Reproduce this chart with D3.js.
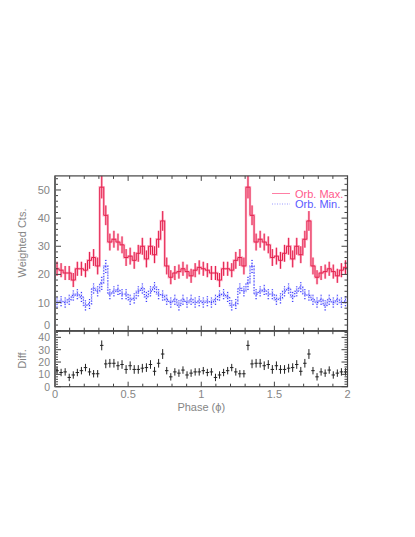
<!DOCTYPE html>
<html><head><meta charset="utf-8">
<script src="https://cdn.jsdelivr.net/npm/d3@7"></script>
<style>
html,body{margin:0;padding:0;background:#fff;}
text{font-family:"Liberation Sans","DejaVu Sans",sans-serif;}
</style></head>
<body>
<svg id="c" width="415" height="537"></svg>
<script>
// ---- data (one cycle, 36 phase bins; plotted twice: phase 0-2) ----
const nBins = 36;
const orbMax = [22,21.5,20.5,20.5,18,22,22,21.5,25,26,23,51,41,31.5,32.5,31.5,30.5,26,26.5,25,27.5,30,25.5,30,27,32.5,39,23,19,20.5,21,22,21,19.5,21.5,22.5];
const orbMaxErr = [2.5,2.5,2.5,2.5,2.5,2.5,2.5,2.5,3,3,3,4,3.5,3,3,3,3,3,3,3,3,3,3,3,3,3,3.5,3,2.5,2.5,2.5,2.5,2.5,2.5,2.5,2.5];
const orbMin = [10,10.5,10,11,12.5,13,12,9,9.5,15,14,17,23,13,14,14.5,13,13,11,11.5,14,15,12,14,15.5,13,12.5,11,10,11,9,11,10,11,10,10.5];
const orbMinErr = [1.8,1.8,1.8,1.8,1.8,1.8,1.8,1.8,1.8,1.8,1.8,2.5,2.5,1.8,1.8,1.8,1.8,1.8,1.8,1.8,1.8,1.8,1.8,1.8,1.8,1.8,1.8,1.8,1.8,1.8,1.8,1.8,1.8,1.8,1.8,1.8];
const diff = [13,11.5,12,7.5,9.5,11.5,13,15.5,12,10.5,10.5,33.5,18.5,19,19,17,18,14,17,14,14,15,15.5,18,12.5,19,26.5,13,8,12,11,13.5,9.5,11,12,12];
const diffErr = [3,3,3,3,3,3,3,3,3,3,3,4,3.5,3.5,3.5,3.5,3.5,3.5,3.5,3.5,3.5,3.5,3.5,3.5,3.5,3.5,4,3,3,3,3,3,3,3,3,3];
const xTicksMajor = [0,0.5,1,1.5,2];
const xTickLabels = ["0","0.5","1","1.5","2"];
const yTopTicks = [0,10,20,30,40,50];
const yBotTicks = [0,10,20,30,40];
const legendLabels = ["Orb. Max.","Orb. Min."];

// ---- build bins over two cycles ----
function cycles(vals, errs){
  const out=[];
  for(let c=0;c<2;c++) vals.forEach((v,i)=>{
    const k=c*nBins+i;
    out.push({x0:k/nBins, x1:(k+1)/nBins, xc:(k+0.5)/nBins, v:v, e:errs[i]});
  });
  return out;
}
const maxB = cycles(orbMax, orbMaxErr);
const minB = cycles(orbMin, orbMinErr);
const difB = cycles(diff, diffErr);

const svg = d3.select("#c");
const x = d3.scaleLinear().domain([0,2]).range([55,347.5]);
const yT = d3.scaleLinear().domain([0,55]).range([330.7,175.9]);
const yB = d3.scaleLinear().domain([0,45]).range([386.7,331.2]);

const axisCol = "#444", txtCol = "#858585";

function stepPts(bins, y){
  const pts=[];
  bins.forEach(b=>{pts.push([x(b.x0),y(b.v)]);pts.push([x(b.x1),y(b.v)]);});
  return pts;
}
const line = d3.line();

function drawHist(bins, y, color, w, ew, dash, opacity){
  const g = svg.append("g").attr("opacity", opacity);
  g.append("path").attr("d", line(stepPts(bins,y))).attr("fill","none")
    .attr("stroke",color).attr("stroke-width",w).attr("stroke-dasharray",dash||null);
  g.selectAll("line.err").data(bins).join("line")
    .attr("x1",d=>x(d.xc)).attr("x2",d=>x(d.xc))
    .attr("y1",d=>y(d.v-d.e)).attr("y2",d=>y(Math.min(d.v+d.e, y.domain()[1])))
    .attr("stroke",color).attr("stroke-width",ew).attr("stroke-dasharray",dash||null);
}

// Orb. Min. (blue dotted)
drawHist(minB, yT, "#b4b4ff", 1.8, 1.8, "1.2,1.2", 1);
drawHist(minB, yT, "#2a2aff", 1, 1, "1,2", 1);
// Orb. Max. (pink / crimson)
drawHist(maxB, yT, "#ff9cb8", 2.4, 2.4, null, 0.75);
drawHist(maxB, yT, "#e3204c", 1, 1, null, 1);

// Diff crosses
const gd = svg.append("g");
gd.selectAll("line.h").data(difB).join("line")
  .attr("x1",d=>x(d.x0)+0.3).attr("x2",d=>x(d.x1)-0.3)
  .attr("y1",d=>yB(d.v)).attr("y2",d=>yB(d.v))
  .attr("stroke","#222").attr("stroke-width",1);
gd.selectAll("line.v").data(difB).join("line")
  .attr("x1",d=>x(d.xc)).attr("x2",d=>x(d.xc))
  .attr("y1",d=>yB(d.v-d.e)).attr("y2",d=>yB(d.v+d.e))
  .attr("stroke","#222").attr("stroke-width",1);

// ---- axes / frames ----
function frame(y){
  const [y0,y1] = y.range();
  svg.append("rect").attr("x",x(0)).attr("y",y1).attr("width",x(2)-x(0)).attr("height",y0-y1)
    .attr("fill","none").attr("stroke",axisCol).attr("stroke-width",1.2);
  const xt = d3.range(0,2.0001,0.1);
  xt.forEach(t=>{
    const major = Math.abs(t*2-Math.round(t*2))<1e-6;
    const L = major?5:3;
    svg.append("line").attr("x1",x(t)).attr("x2",x(t)).attr("y1",y0).attr("y2",y0-L).attr("stroke",axisCol);
    svg.append("line").attr("x1",x(t)).attr("x2",x(t)).attr("y1",y1).attr("y2",y1+L).attr("stroke",axisCol);
  });
  const yt = d3.range(0, y.domain()[1]+0.001, 2);
  yt.forEach(t=>{
    const major = t%10===0;
    const L = major?6:3;
    svg.append("line").attr("x1",x(0)).attr("x2",x(0)+L).attr("y1",y(t)).attr("y2",y(t)).attr("stroke",axisCol);
    svg.append("line").attr("x1",x(2)).attr("x2",x(2)-L).attr("y1",y(t)).attr("y2",y(t)).attr("stroke",axisCol);
  });
}
frame(yT);
frame(yB);
svg.append("line").attr("x1",x(0)).attr("x2",x(0)).attr("y1",yT.range()[1]).attr("y2",yB.range()[0])
  .attr("stroke","#666").attr("stroke-width",2);

// y tick labels
svg.selectAll("text.yt").data(yTopTicks).join("text")
  .attr("x",50).attr("y",d=>yT(d)+(d===0?-1.5:4)).attr("text-anchor","end")
  .attr("font-size",11).attr("fill",txtCol).text(d=>d);
svg.selectAll("text.yb").data(yBotTicks).join("text")
  .attr("x",50).attr("y",d=>yB(d)+3.8).attr("text-anchor","end")
  .attr("font-size",10.5).attr("fill",txtCol).text(d=>d);
// x tick labels
svg.selectAll("text.xt").data(xTicksMajor).join("text")
  .attr("x",d=>x(d)).attr("y",398).attr("text-anchor","middle")
  .attr("font-size",11).attr("fill",txtCol).text((d,i)=>xTickLabels[i]);

// axis titles
svg.append("text").attr("transform","translate(26,243) rotate(-90)").attr("text-anchor","middle")
  .attr("font-size",11).attr("fill",txtCol).text("Weighted  Cts.");
svg.append("text").attr("transform","translate(26,359) rotate(-90)").attr("text-anchor","middle")
  .attr("font-size",11).attr("fill",txtCol).text("Diff.");
svg.append("text").attr("x",x(1)).attr("y",411).attr("text-anchor","middle")
  .attr("font-size",11).attr("fill",txtCol).text("Phase (ϕ)");

// legend
const lg = svg.append("g");
lg.append("line").attr("x1",272).attr("x2",290).attr("y1",193.5).attr("y2",193.5)
  .attr("stroke","#ff7fa5").attr("stroke-width",1);
lg.append("line").attr("x1",272).attr("x2",290).attr("y1",204).attr("y2",204)
  .attr("stroke","#9a9aff").attr("stroke-width",1).attr("stroke-dasharray","1,1.5");
lg.append("text").attr("x",295).attr("y",197.5).attr("font-size",11).attr("fill","#ff5a8c").text(legendLabels[0]);
lg.append("text").attr("x",295).attr("y",208).attr("font-size",11).attr("fill","#5a5aff").text(legendLabels[1]);
</script>
</body></html>
